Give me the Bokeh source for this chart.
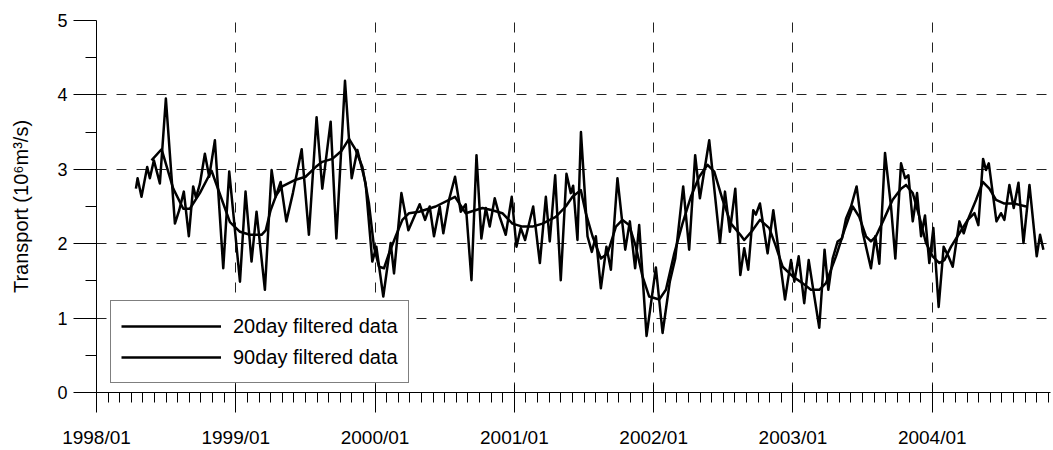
from bokeh.plotting import figure
from bokeh.models import Range1d, FixedTicker, Legend, LegendItem
from bokeh.embed import file_html
from bokeh.resources import INLINE

# Time in decimal years, transport in 10^6 m^3/s
t_20day = [
    1998.283, 1998.295, 1998.323, 1998.364, 1998.383, 1998.412, 1998.455, 1998.498,
    1998.563, 1998.594, 1998.627, 1998.663, 1998.694, 1998.714, 1998.742, 1998.778,
    1998.809, 1998.850, 1998.910, 1998.953, 1999.030, 1999.070, 1999.113, 1999.149,
    1999.209, 1999.257, 1999.286, 1999.322, 1999.363, 1999.410, 1999.473, 1999.525,
    1999.580, 1999.621, 1999.681, 1999.722, 1999.784, 1999.832, 1999.873, 1999.932,
    1999.980, 2000.009, 2000.059, 2000.112, 2000.136, 2000.189, 2000.239, 2000.320,
    2000.359, 2000.392, 2000.423, 2000.464, 2000.490, 2000.531, 2000.574, 2000.615,
    2000.651, 2000.692, 2000.728, 2000.763, 2000.795, 2000.823, 2000.859, 2000.895,
    2000.938, 2000.981, 2001.015, 2001.046, 2001.077, 2001.135, 2001.183, 2001.226,
    2001.254, 2001.293, 2001.333, 2001.374, 2001.405, 2001.422, 2001.453, 2001.478,
    2001.525, 2001.556, 2001.585, 2001.621, 2001.661, 2001.693, 2001.740, 2001.796,
    2001.829, 2001.867, 2001.896, 2001.949, 2002.016, 2002.064, 2002.116, 2002.155,
    2002.212, 2002.255, 2002.298, 2002.332, 2002.399, 2002.476, 2002.512, 2002.547,
    2002.586, 2002.622, 2002.650, 2002.679, 2002.715, 2002.734, 2002.763, 2002.818,
    2002.859, 2002.943, 2002.986, 2003.010, 2003.041, 2003.081, 2003.113, 2003.146,
    2003.189, 2003.227, 2003.254, 2003.285, 2003.321, 2003.352, 2003.381, 2003.417,
    2003.457, 2003.500, 2003.560, 2003.591, 2003.620, 2003.661, 2003.704, 2003.735,
    2003.776, 2003.805, 2003.829, 2003.860, 2003.891, 2003.920, 2003.948, 2003.979,
    2004.008, 2004.046, 2004.082, 2004.116, 2004.147, 2004.195, 2004.226, 2004.255,
    2004.303, 2004.331, 2004.365, 2004.386, 2004.406, 2004.461, 2004.494, 2004.518,
    2004.554, 2004.585, 2004.619, 2004.655, 2004.698, 2004.750, 2004.774, 2004.798,
]
v_20day = [
    2.74, 2.88, 2.63, 3.03, 2.88, 3.12, 2.81, 3.95,
    2.27, 2.45, 2.70, 2.10, 2.77, 2.62, 2.80, 3.21,
    2.90, 3.39, 1.67, 2.97, 1.49, 2.70, 1.76, 2.43,
    1.38, 2.99, 2.63, 2.83, 2.30, 2.68, 3.27, 2.12,
    3.70, 2.74, 3.64, 2.07, 4.19, 2.88, 3.26, 2.81,
    1.76, 1.96, 1.29, 2.01, 1.60, 2.68, 2.18, 2.53,
    2.32, 2.50, 2.10, 2.50, 2.14, 2.59, 2.90, 2.43,
    2.53, 1.51, 3.19, 2.07, 2.48, 2.23, 2.61, 2.36,
    2.12, 2.63, 1.96, 2.21, 2.05, 2.50, 1.74, 2.63,
    2.03, 2.92, 1.51, 2.94, 2.68, 2.78, 2.05, 3.50,
    2.10, 1.89, 2.10, 1.40, 1.96, 1.65, 2.88, 1.92,
    2.30, 1.67, 2.25, 0.76, 1.68, 0.80, 1.49, 1.80,
    2.77, 1.92, 3.19, 2.61, 3.39, 2.01, 2.70, 2.16,
    2.74, 1.58, 1.94, 1.65, 2.45, 2.39, 2.54, 1.87,
    2.45, 1.25, 1.78, 1.49, 1.83, 1.20, 1.78, 1.38,
    0.87, 1.92, 1.38, 1.80, 2.03, 2.07, 2.34, 2.50,
    2.77, 2.16, 1.67, 2.10, 1.73, 3.22, 2.50, 1.80,
    3.08, 2.88, 2.92, 2.30, 2.68, 2.10, 2.38, 1.74,
    2.21, 1.15, 1.96, 1.83, 1.69, 2.30, 2.14, 2.32,
    2.41, 2.25, 3.14, 2.99, 3.08, 2.30, 2.41, 2.32,
    2.79, 2.48, 2.82, 2.01, 2.79, 1.83, 2.12, 1.92,
]

t_90day = [
    1998.395, 1998.467, 1998.551, 1998.623, 1998.670, 1998.742, 1998.826, 1998.910,
    1998.958, 1999.030, 1999.102, 1999.185, 1999.215, 1999.250, 1999.290, 1999.334,
    1999.430, 1999.501, 1999.573, 1999.621, 1999.693, 1999.760, 1999.813, 1999.861,
    1999.909, 1999.956, 1999.992, 2000.028, 2000.064, 2000.100, 2000.148, 2000.196,
    2000.244, 2000.316, 2000.435, 2000.574, 2000.651, 2000.771, 2000.842, 2000.914,
    2000.986, 2001.058, 2001.130, 2001.202, 2001.297, 2001.369, 2001.417, 2001.477,
    2001.513, 2001.561, 2001.621, 2001.669, 2001.729, 2001.776, 2001.824, 2001.872,
    2001.920, 2001.968, 2002.040, 2002.088, 2002.148, 2002.207, 2002.267, 2002.327,
    2002.387, 2002.435, 2002.495, 2002.555, 2002.622, 2002.650, 2002.710, 2002.763,
    2002.830, 2002.878, 2002.926, 2002.998, 2003.069, 2003.129, 2003.189, 2003.237,
    2003.309, 2003.369, 2003.429, 2003.476, 2003.524, 2003.560, 2003.596, 2003.656,
    2003.716, 2003.776, 2003.812, 2003.860, 2003.908, 2003.955, 2004.003, 2004.051,
    2004.087, 2004.135, 2004.195, 2004.255, 2004.315, 2004.363, 2004.410, 2004.458,
    2004.518, 2004.590, 2004.674,
]
v_90day = [
    3.12, 3.27, 2.74, 2.47, 2.47, 2.68, 2.98, 2.54,
    2.29, 2.16, 2.12, 2.12, 2.18, 2.45, 2.65, 2.77,
    2.86, 2.90, 3.03, 3.10, 3.14, 3.25, 3.41, 3.26,
    3.03, 2.54, 1.96, 1.69, 1.67, 1.87, 2.10, 2.32,
    2.41, 2.43, 2.50, 2.63, 2.41, 2.48, 2.45, 2.41,
    2.27, 2.23, 2.23, 2.27, 2.36, 2.50, 2.63, 2.72,
    2.41, 2.10, 1.80, 1.87, 2.23, 2.32, 2.25, 1.96,
    1.56, 1.29, 1.25, 1.38, 1.87, 2.27, 2.63, 2.90,
    3.06, 2.97, 2.59, 2.27, 2.12, 2.05, 2.18, 2.32,
    2.21, 1.96, 1.69, 1.56, 1.47, 1.38, 1.38, 1.47,
    1.83, 2.18, 2.50, 2.36, 2.10, 2.03, 2.10, 2.34,
    2.59, 2.74, 2.79, 2.68, 2.36, 2.01, 1.83, 1.74,
    1.78, 1.96, 2.14, 2.32, 2.59, 2.83, 2.74, 2.59,
    2.54, 2.54, 2.50,
]

years = [1998, 1999, 2000, 2001, 2002, 2003, 2004]
year_labels = ["1998/01", "1999/01", "2000/01", "2001/01", "2002/01", "2003/01", "2004/01"]
y_ticks = [0, 1, 2, 3, 4, 5]

FONT = "Liberation Sans"

p = figure(
    width=1053, height=450,
    x_range=Range1d(1998.0, 2004.849), y_range=Range1d(0, 5),
    output_backend="svg", toolbar_location=None,
    min_border_left=96, min_border_right=3, min_border_top=20, min_border_bottom=57,
)
p.outline_line_color = None
p.background_fill_color = "white"
p.border_fill_color = "white"

# month ticks along the time axis
month_ticks = [y + m / 12 for y in range(1998, 2005) for m in range(1, 12)]
month_ticks += [2004 + 11 / 12]
p.xaxis.ticker = FixedTicker(ticks=years, minor_ticks=month_ticks)
p.xaxis.major_label_overrides = {y: lab for y, lab in zip(years, year_labels)}
p.yaxis.ticker = FixedTicker(ticks=y_ticks, minor_ticks=[0.5, 1.5, 2.5, 3.5, 4.5])

for ax in (p.xaxis, p.yaxis):
    ax.axis_line_color = "black"
    ax.axis_line_width = 1
    ax.major_tick_line_color = "black"
    ax.minor_tick_line_color = "black"
    ax.major_label_text_font = FONT
    ax.major_label_text_color = "black"
    ax.axis_label_text_font = FONT
    ax.axis_label_text_font_style = "normal"
    ax.axis_label_text_color = "black"

p.xaxis.major_tick_in = 8
p.xaxis.major_tick_out = 20
p.xaxis.minor_tick_in = 0
p.xaxis.minor_tick_out = 10
p.xaxis.major_label_text_font_size = "19px"
p.xaxis.major_label_standoff = 14

p.yaxis.major_tick_in = 0
p.yaxis.major_tick_out = 23
p.yaxis.minor_tick_in = 0
p.yaxis.minor_tick_out = 11
p.yaxis.major_label_text_font_size = "18px"
p.yaxis.major_label_standoff = 6
p.yaxis.axis_label = "Transport (10\u2076m\u00b3/s)"
p.yaxis.axis_label_text_font_size = "20px"
p.yaxis.axis_label_standoff = 22

for g in (p.xgrid, p.ygrid):
    g.grid_line_color = "#222222"
    g.grid_line_width = 1
    g.grid_line_dash = "10 10"

r20 = p.line(t_20day, v_20day, line_color="black", line_width=2.5, line_join="round")
r90 = p.line(t_90day, v_90day, line_color="black", line_width=2.5, line_join="round")

legend = Legend(
    items=[LegendItem(label="20day filtered data", renderers=[r20]),
           LegendItem(label="90day filtered data", renderers=[r90])],
    location=(14, 9),
    glyph_width=100, glyph_height=30, label_height=30, spacing=1,
    padding=10, label_standoff=12, margin=0,
    label_text_font=FONT, label_text_font_size="20px", label_text_color="black",
    border_line_color="black", border_line_width=1,
    background_fill_color="white", background_fill_alpha=1,
)
p.add_layout(legend)

open("out.html", "w").write(file_html(p, INLINE))
